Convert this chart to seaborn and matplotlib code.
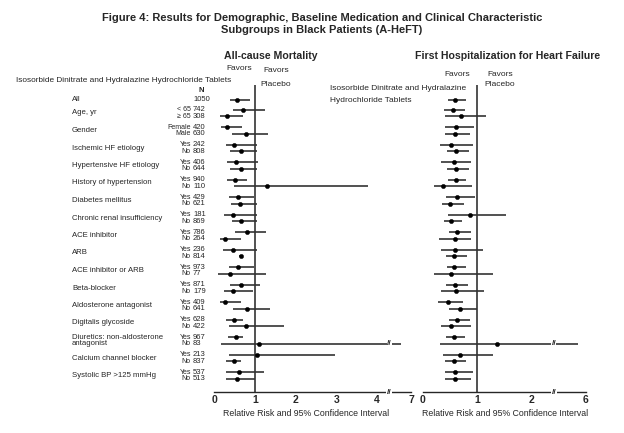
import numpy as np
import pandas as pd
import matplotlib
matplotlib.use("Agg")
import matplotlib.pyplot as plt
import matplotlib.transforms as mtransforms
import seaborn as sns

# subgroup categories
groups = ["All", "Age, yr", "Gender", "Ischemic HF etiology", "Hypertensive HF etiology",
          "History of hypertension", "Diabetes mellitus", "Chronic renal insufficiency",
          "ACE inhibitor", "ARB", "ACE inhibitor or ARB", "Beta-blocker",
          "Aldosterone antagonist", "Digitalis glycoside",
          "Diuretics: non-aldosterone\nantagonist", "Calcium channel blocker",
          "Systolic BP >125 mmHg"]
sublabels = [""] + ["< 65", "\u2265 65", "Female", "Male"] + ["Yes", "No"] * 14
n_values = [1050, 742, 308, 420, 630, 242, 808, 406, 644, 940, 110, 429, 621, 181, 869,
            786, 264, 236, 814, 973, 77, 871, 179, 409, 641, 628, 422, 967, 83, 213, 837,
            537, 513]

# All-cause mortality: relative risk, lower CI, upper CI
mort_rr = [0.57, 0.72, 0.33, 0.33, 0.78, 0.50, 0.66, 0.53, 0.65, 0.52, 1.31, 0.60, 0.64,
           0.46, 0.66, 0.80, 0.27, 0.46, 0.65, 0.60, 0.38, 0.65, 0.46, 0.27, 0.80, 0.50,
           0.78, 0.54, 1.11, 1.06, 0.50, 0.62, 0.56]
mort_lo = [0.39, 0.47, 0.15, 0.16, 0.45, 0.30, 0.39, 0.33, 0.39, 0.33, 0.48, 0.36, 0.41,
           0.25, 0.43, 0.51, 0.15, 0.22, 0.62, 0.36, 0.09, 0.39, 0.25, 0.15, 0.47, 0.30,
           0.37, 0.34, 0.16, 0.37, 0.30, 0.30, 0.30]
mort_hi = [0.88, 1.25, 0.71, 0.68, 1.33, 1.05, 1.05, 1.08, 1.05, 0.82, 3.78, 0.99, 1.05,
           1.05, 1.05, 1.28, 0.66, 1.05, 0.69, 0.97, 1.28, 1.13, 0.96, 0.65, 1.37, 0.70,
           1.71, 0.70, 5.80, 2.97, 0.67, 1.23, 1.00]

# First hospitalization for heart failure
hosp_rr = [0.60, 0.55, 0.70, 0.61, 0.60, 0.52, 0.61, 0.57, 0.61, 0.61, 0.38, 0.64, 0.51,
           0.87, 0.53, 0.64, 0.60, 0.60, 0.58, 0.58, 0.52, 0.60, 0.61, 0.46, 0.69, 0.64,
           0.53, 0.58, 1.38, 0.68, 0.57, 0.60, 0.60]
hosp_lo = [0.46, 0.39, 0.42, 0.42, 0.42, 0.32, 0.44, 0.33, 0.44, 0.46, 0.20, 0.43, 0.35,
           0.47, 0.39, 0.48, 0.30, 0.33, 0.43, 0.44, 0.20, 0.43, 0.34, 0.29, 0.49, 0.48,
           0.33, 0.43, 0.32, 0.37, 0.41, 0.42, 0.42]
hosp_hi = [0.80, 0.78, 1.17, 0.94, 0.88, 0.92, 0.86, 0.90, 0.86, 0.80, 0.91, 0.97, 0.76,
           1.54, 0.73, 0.89, 0.89, 1.12, 0.82, 0.79, 1.30, 0.83, 1.14, 0.75, 1.00, 0.87,
           0.89, 0.78, 5.15, 1.30, 0.80, 0.93, 0.90]

left_ticks = [0, 1, 2, 3, 4, 7]
right_ticks = [0, 1, 2, 6]

W, H = 624, 433
sns.set_style("white")
plt.rcParams['font.family'] = ['Liberation Sans Narrow', 'Liberation Sans', 'DejaVu Sans']

# row positions: "All" on top, then pairs per group
group_y = [-0.75] + list(range(len(groups) - 1))
row_y = [group_y[0]]
for g in group_y[1:]:
    row_y += [g - 0.19, g + 0.19]

df = pd.DataFrame({"sub": sublabels, "n": n_values, "y": row_y,
                   "m_rr": mort_rr, "m_lo": mort_lo, "m_hi": mort_hi,
                   "h_rr": hosp_rr, "h_lo": hosp_lo, "h_hi": hosp_hi})


def broken(v, brk, top_val, top_pos):
    # compress values beyond the axis break
    v = np.asarray(v, dtype=float)
    scale = (top_pos - brk) / (top_val - brk)
    return np.where(v > brk, brk + (v - brk) * scale, v)


def fx(x):
    return x / W


def fy(y):
    return 1 - y / H


fig = plt.figure(figsize=(W / 100, H / 100), dpi=100)
ax_top, ax_bot = 85, 392
ylim = ((ax_bot - 113) / 17.5, (ax_top - 113) / 17.5)

panels = [
    dict(left=214, unit=40.8, xmax=4.95, pre="m", brk=4.3, tval=7, tpos=4.83, ticks=left_ticks),
    dict(left=422.7, unit=54.2, xmax=3.1, pre="h", brk=2.42, tval=6, tpos=3.01, ticks=right_ticks),
]
axes = []
for p in panels:
    ax = fig.add_axes([fx(p["left"]), fy(ax_bot), p["xmax"] * p["unit"] / W,
                       (ax_bot - ax_top) / H])
    axes.append(ax)
    pre = p["pre"]
    lo = broken(df[pre + "_lo"], p["brk"], p["tval"], p["tpos"])
    hi = broken(df[pre + "_hi"], p["brk"], p["tval"], p["tpos"])
    ax.hlines(df["y"], lo, hi, color="#222222", lw=1.1)
    sns.scatterplot(x=broken(df[pre + "_rr"], p["brk"], p["tval"], p["tpos"]), y=df["y"],
                    ax=ax, color="black", s=10, marker="o", edgecolor="black", zorder=3)
    ax.axvline(1, color="#333333", lw=1.2)
    ax.set_xlim(0, p["xmax"])
    ax.set_ylim(*ylim)
    ax.set_xlabel("")
    ax.set_ylabel("")
    ax.set_yticks([])
    for s in ["left", "top", "right"]:
        ax.spines[s].set_visible(False)
    ax.spines["bottom"].set_bounds(0, p["tpos"])
    ax.spines["bottom"].set_linewidth(1.0)
    tpos = [t if t <= p["brk"] else p["tpos"] for t in p["ticks"]]
    ax.set_xticks(tpos)
    ax.set_xticklabels([str(t) for t in p["ticks"]], fontsize=7.5, fontweight="bold",
                       family="Liberation Sans")
    ax.set_xticks(np.arange(0, p["brk"], 0.1), minor=True)
    ax.tick_params(axis="x", which="major", direction="in", length=4, width=1, pad=2)
    ax.tick_params(axis="x", which="minor", direction="in", length=2, width=0.6)
    ax.tick_params(axis="y", which="both", left=False)
    # axis break marks
    tr = mtransforms.blended_transform_factory(ax.transData, ax.transAxes)
    ax.text(p["brk"], 0, "//", transform=tr, ha="center", va="center", fontsize=6,
            fontweight="bold", clip_on=False,
            bbox=dict(facecolor="white", edgecolor="none", pad=0.5))
    big = df[df[pre + "_hi"] > p["brk"]]
    for yy in big["y"]:
        ax.text(p["brk"], yy, "//", ha="center", va="center", fontsize=6,
                fontweight="bold", bbox=dict(facecolor="white", edgecolor="none", pad=0.2))

ax = axes[0]
tr = mtransforms.blended_transform_factory(fig.transFigure, ax.transData)
for g, yy in zip(groups, group_y):
    ax.text(fx(72), yy, g, transform=tr, ha="left", va="center", fontsize=5.6,
            linespacing=0.85, clip_on=False)
for _, r in df.iterrows():
    ax.text(fx(191), r["y"], r["sub"], transform=tr, ha="right", va="center",
            fontsize=5, clip_on=False)
    ax.text(fx(193), r["y"], str(r["n"]), transform=tr, ha="left", va="center",
            fontsize=5.5, clip_on=False)

# titles and annotations
fig.text(fx(322), fy(18), "Figure 4: Results for Demographic, Baseline Medication and Clinical Characteristic",
         ha="center", va="center", fontsize=8.0, fontweight="bold", family="Liberation Sans")
fig.text(fx(322), fy(30), "Subgroups in Black Patients (A-HeFT)",
         ha="center", va="center", fontsize=8.0, fontweight="bold", family="Liberation Sans")
fig.text(fx(271), fy(56), "All-cause Mortality", ha="center", va="center",
         fontsize=7.6, fontweight="bold", family="Liberation Sans")
fig.text(fx(508), fy(56), "First Hospitalization for Heart Failure", ha="center", va="center",
         fontsize=7.6, fontweight="bold", family="Liberation Sans")
fig.text(fx(16), fy(81), "Isosorbide Dinitrate and Hydralazine Hydrochloride Tablets",
         ha="left", va="center", fontsize=5.95)
fig.text(fx(201), fy(91), "N", ha="center", va="center", fontsize=5.5, fontweight="bold")
fig.text(fx(239), fy(69), "Favors", ha="center", va="center", fontsize=6)
fig.text(fx(276), fy(70), "Favors", ha="center", va="center", fontsize=6)
fig.text(fx(276), fy(85), "Placebo", ha="center", va="center", fontsize=6)
fig.text(fx(457), fy(75), "Favors", ha="center", va="center", fontsize=6)
fig.text(fx(500), fy(74), "Favors", ha="center", va="center", fontsize=6)
fig.text(fx(500), fy(85), "Placebo", ha="center", va="center", fontsize=6)
fig.text(fx(330), fy(89), "Isosorbide Dinitrate and Hydralazine", ha="left", va="center",
         fontsize=6.0)
fig.text(fx(330), fy(100), "Hydrochloride Tablets", ha="left", va="center", fontsize=6.0)
fig.text(fx(306), fy(414), "Relative Risk and 95% Confidence Interval", ha="center",
         va="center", fontsize=6.3)
fig.text(fx(505), fy(414), "Relative Risk and 95% Confidence Interval", ha="center",
         va="center", fontsize=6.3)

fig.savefig("out.png", dpi=100)
